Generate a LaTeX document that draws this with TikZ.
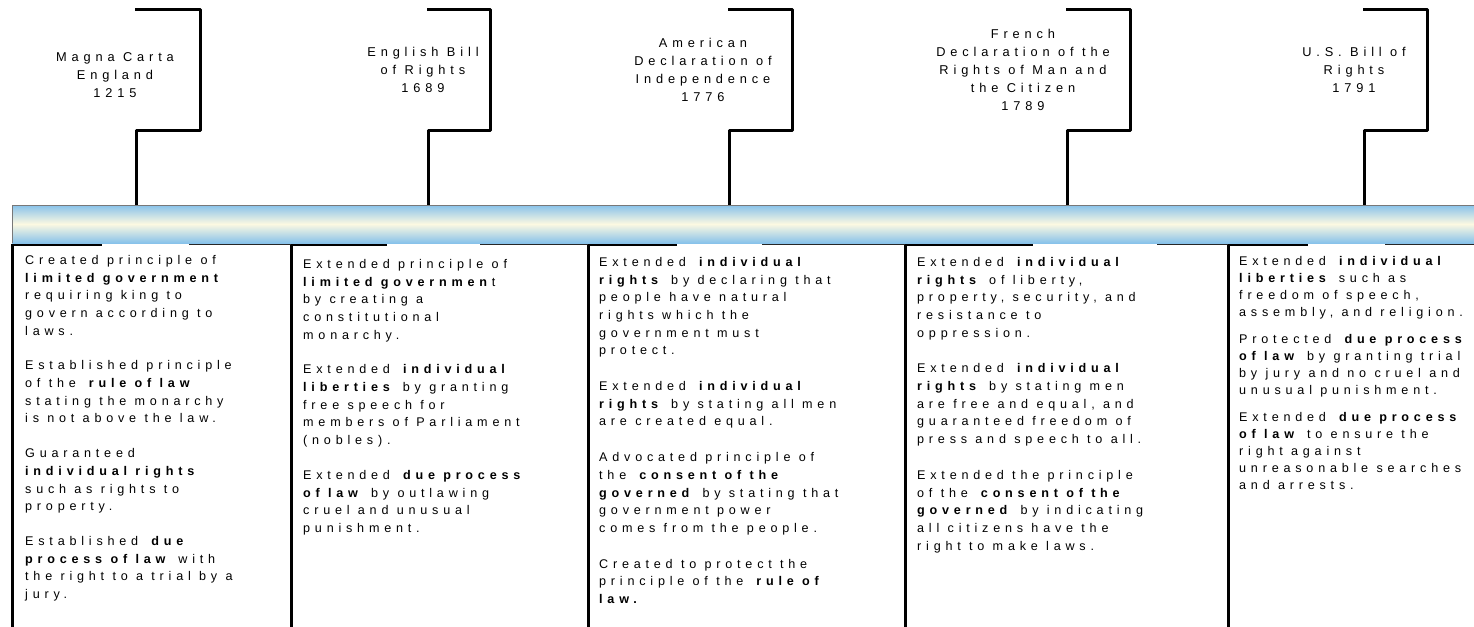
\documentclass[tikz,border=0pt]{standalone}
\usepackage{fontspec}
\setmainfont{Liberation Sans}
\newfontfamily\spacedfam[LetterSpace=38]{Liberation Sans}
\newcommand\mybodyfont{\spacedfam\fontsize{12.6}{17.7}\selectfont}
\newcommand\mybodyfontb{\spacedfam\fontsize{12.6}{17}\selectfont}
\newcommand\mytitlefont{\spacedfam\fontsize{12.8}{18}\selectfont}
\definecolor{barblue}{RGB}{136,194,234}
\definecolor{barcream}{RGB}{252,249,226}
\definecolor{baredge}{RGB}{120,120,120}
\tikzset{
  bracket/.style={line width=3pt, line join=round},
  boxedge/.style={line width=3pt},
  boxtopthick/.style={line width=2.6pt},
  boxtopthin/.style={line width=1pt, draw=black!85},
  titletext/.style={align=center, inner sep=0pt, font=\mytitlefont},
  bodytext/.style={align=left, anchor=north west, inner sep=0pt, font=\mybodyfont},
}
\begin{document}
\begin{tikzpicture}[x=1pt,y=-1pt]
\useasboundingbox (0,0) rectangle (1474,626);
\clip (0,0) rectangle (1474,626);
\fill[white] (0,0) rectangle (1474,626);

% bar
\shade[top color=barblue, bottom color=barblue, middle color=barcream] (12,205) rectangle (1480,243);
\draw[baredge, line width=0.8pt] (1480,205) -- (12,205) -- (12,243);

% titles
\node[titletext] (t1) at (115,75) {Magna Carta\\England\\1215};
\node[titletext] (t2) at (423,70) {English Bill\\of Rights\\1689};
\node[titletext] (t3) at (703,70) {American\\Declaration of\\Independence\\1776};
\node[titletext] (t4) at (1023,70) {French\\Declaration of the\\Rights of Man and\\the Citizen\\1789};
\node[titletext] (t5) at (1354,70) {U.S. Bill of\\Rights\\1791};

% brackets
\coordinate (p1) at (136,205);
\coordinate (p2) at (428,205);
\coordinate (p3) at (729,205);
\coordinate (p4) at (1067,205);
\coordinate (p5) at (1364,205);
\draw[bracket] (135,10) -- (200,10) -- (200,130) -- (136,130) -- (p1);
\draw[bracket] (427,10) -- (490,10) -- (490,130) -- (428,130) -- (p2);
\draw[bracket] (728,10) -- (792,10) -- (792,130) -- (729,130) -- (p3);
\draw[bracket] (1066,10) -- (1130,10) -- (1130,130) -- (1067,130) -- (p4);
\draw[bracket] (1363,10) -- (1427,10) -- (1427,130) -- (1364,130) -- (p5);

% boxes
\foreach \x in {12,291,588,905,1228} {
  \draw[boxedge] (\x,244) -- (\x,630);
}
\draw[boxtopthick] (12,245) -- (102,245);   \draw[boxtopthin] (189,244.5) -- (291,244.5);
\draw[boxtopthick] (291,245) -- (387,245);  \draw[boxtopthin] (480,244.5) -- (588,244.5);
\draw[boxtopthick] (588,245) -- (677,245);  \draw[boxtopthin] (762,244.5) -- (905,244.5);
\draw[boxtopthick] (905,245) -- (1033,245); \draw[boxtopthin] (1157,244.5) -- (1228,244.5);
\draw[boxtopthick] (1228,245) -- (1308,245); \draw[boxtopthin] (1385,244.5) -- (1480,244.5);

% body texts
\node[bodytext] (b1) at (25,255) {Created principle of\\
\textbf{limited government}\\
requiring king to\\
govern according to\\
laws.\\[17pt]
Established principle\\
of the \textbf{rule of law}\\
stating the monarchy\\
is not above the law.\\[17pt]
Guaranteed\\
\textbf{individual rights}\\
such as rights to\\
property.\\[17pt]
Established \textbf{due}\\
\textbf{process of law} with\\
the right to a trial by a\\
jury.};

\node[bodytext] (b2) at (303,259) {Extended principle of\\
\textbf{limited governmen}t\\
by creating a\\
constitutional\\
monarchy.\\[17pt]
Extended \textbf{individual}\\
\textbf{liberties} by granting\\
free speech for\\
members of Parliament\\
(nobles).\\[17pt]
Extended \textbf{due process}\\
\textbf{of law} by outlawing\\
cruel and unusual\\
punishment.};

\node[bodytext] (b3) at (599,257) {Extended \textbf{individual}\\
\textbf{rights} by declaring that\\
people have natural\\
rights which the\\
government must\\
protect.\\[18pt]
Extended \textbf{individual}\\
\textbf{rights} by stating all men\\
are created equal.\\[18pt]
Advocated principle of\\
the \textbf{consent of the}\\
\textbf{governed} by stating that\\
government power\\
comes from the people.\\[18pt]
Created to protect the\\
principle of the \textbf{rule of}\\
\textbf{law.}};

\node[bodytext] (b4) at (917,257) {Extended \textbf{individual}\\
\textbf{rights} of liberty,\\
property, security, and\\
resistance to\\
oppression.\\[18pt]
Extended \textbf{individual}\\
\textbf{rights} by stating men\\
are free and equal, and\\
guaranteed freedom of\\
press and speech to all.\\[18pt]
Extended the principle\\
of the \textbf{consent of the}\\
\textbf{governed} by indicating\\
all citizens have the\\
right to make laws.};

\node[bodytext, font=\mybodyfontb] (b5) at (1239,256) {Extended \textbf{individual}\\
\textbf{liberties} such as\\
freedom of speech,\\
assembly, and religion.\\[10pt]
Protected \textbf{due process}\\
\textbf{of law} by granting trial\\
by jury and no cruel and\\
unusual punishment.\\[10pt]
Extended \textbf{due process}\\
\textbf{of law} to ensure the\\
right against\\
unreasonable searches\\
and arrests.};
\end{tikzpicture}
\end{document}
